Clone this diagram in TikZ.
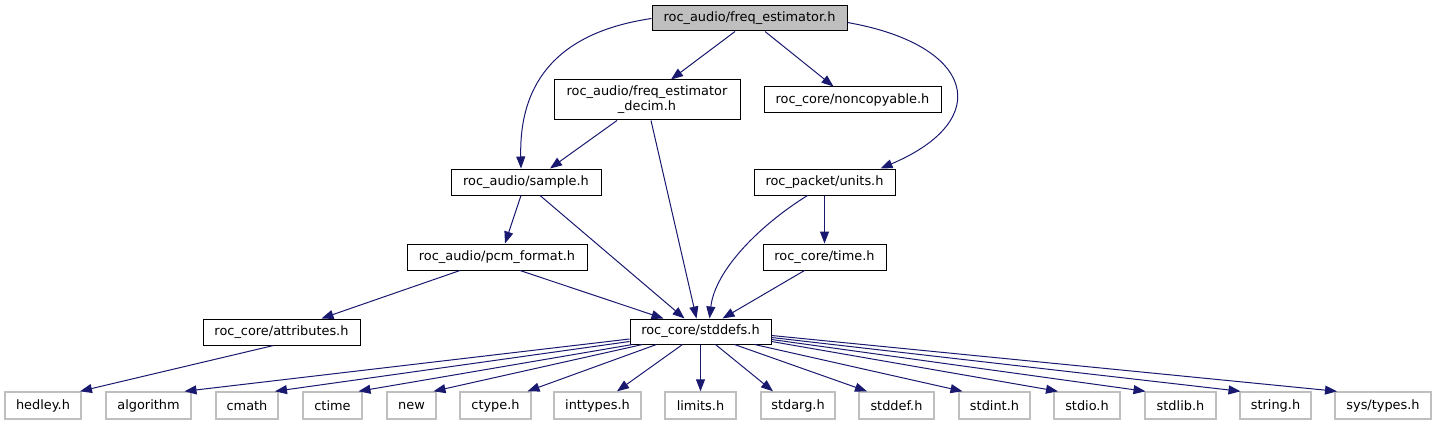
\documentclass[tikz,border=0pt]{standalone}
\usepackage{fontspec}
\setmainfont{DejaVu Sans}
\usetikzlibrary{arrows.meta}
\definecolor{edgeblue}{HTML}{191970}
\definecolor{grey75}{HTML}{BFBFBF}
\begin{document}
\begin{tikzpicture}[x=1pt,y=-1pt,
  every node/.style={font=\fontsize{12.9}{15}\selectfont, inner sep=0pt, align=center},
  box/.style={draw=black, line width=1pt, fill=white, minimum height=26pt},
  topbox/.style={box, fill=grey75, minimum height=25pt},
  extbox/.style={draw=grey75, line width=1.4pt, fill=white, minimum height=27pt},
  edge/.style={draw=edgeblue, line width=1pt, -{Triangle[length=12pt,width=9pt]}}]
\useasboundingbox (0,0) rectangle (1437,425);
% nodes
\node[topbox, minimum width=195pt] (top) at (749.5,18.5) {roc\_audio/freq\_estimator.h};
\node[box, minimum width=186pt, minimum height=40pt] (decim) at (647,100) {roc\_audio/freq\_estimator\\\_decim.h};
\node[box, minimum width=177pt] (noncopy) at (852.5,100) {roc\_core/noncopyable.h};
\node[box, minimum width=150pt] (sample) at (526,182) {roc\_audio/sample.h};
\node[box, minimum width=141pt] (units) at (824.5,182) {roc\_packet/units.h};
\node[box, minimum width=180pt] (pcm) at (497,257) {roc\_audio/pcm\_format.h};
\node[box, minimum width=123pt] (time) at (824.5,257) {roc\_core/time.h};
\node[box, minimum width=157pt] (attr) at (281.5,332) {roc\_core/attributes.h};
\node[box, minimum width=141pt, minimum height=25pt] (stddefs) at (700.5,331.5) {roc\_core/stddefs.h};
% bottom row
\node[extbox, minimum width=76pt] (hedley) at (43,405.5) {hedley.h};
\node[extbox, minimum width=85pt] (algorithm) at (148.5,405.5) {algorithm};
\node[extbox, minimum width=62pt] (cmath) at (247,405.5) {cmath};
\node[extbox, minimum width=59pt] (ctime) at (332.5,405.5) {ctime};
\node[extbox, minimum width=49pt] (new) at (411.5,405.5) {new};
\node[extbox, minimum width=71pt] (ctype) at (495.5,405.5) {ctype.h};
\node[extbox, minimum width=87pt] (inttypes) at (597.5,405.5) {inttypes.h};
\node[extbox, minimum width=71pt] (limits) at (700.5,405.5) {limits.h};
\node[extbox, minimum width=74pt] (stdarg) at (798,405.5) {stdarg.h};
\node[extbox, minimum width=75pt] (stddef) at (896.5,405.5) {stddef.h};
\node[extbox, minimum width=71pt] (stdint) at (994.5,405.5) {stdint.h};
\node[extbox, minimum width=66pt] (stdio) at (1087,405.5) {stdio.h};
\node[extbox, minimum width=71pt] (stdlib) at (1180.5,405.5) {stdlib.h};
\node[extbox, minimum width=71pt] (string) at (1275.5,405.5) {string.h};
\node[extbox, minimum width=96pt] (systypes) at (1383,405.5) {sys/types.h};
% edges from top
\draw[edge] (top.west) .. controls (560,32) and (519,80) .. ([xshift=-5pt]sample.north);
\draw[edge] ([xshift=-14.5pt]top.south) -- ([xshift=24pt]decim.north);
\draw[edge] ([xshift=15.5pt]top.south) -- ([xshift=-19pt]noncopy.north);
\draw[edge] ([yshift=-4pt]top.east) .. controls (975,45) and (995,120) .. ([xshift=56pt]units.north);
% middle edges
\draw[edge] ([xshift=-30pt]decim.south) -- ([xshift=24pt]sample.north);
\draw[edge] ([xshift=4pt]decim.south) -- ([xshift=-4pt]stddefs.north);
\draw[edge] ([xshift=-5pt]sample.south) -- ([xshift=8pt]pcm.north);
\draw[edge] ([xshift=14pt]sample.south) -- ([xshift=-16pt]stddefs.north);
\draw[edge] ([xshift=-37pt]pcm.south) -- ([xshift=40pt]attr.north);
\draw[edge] ([xshift=23pt]pcm.south) -- ([xshift=-37pt]stddefs.north);
\draw[edge] ([xshift=-17pt]units.south) .. controls (760,225) and (715,270) .. ([xshift=9pt]stddefs.north);
\draw[edge] (units.south) -- (time.north);
\draw[edge] ([xshift=-20pt]time.south) -- ([xshift=22pt]stddefs.north);
\draw[edge] ([xshift=-8pt]attr.south) -- ([xshift=37pt]hedley.north);
% stddefs fan-out
\draw[edge] ([yshift=-7.5pt]stddefs.west) -- ([xshift=36pt]algorithm.north);
\draw[edge] ([yshift=-10pt]stddefs.west) -- ([xshift=28pt]cmath.north);
\draw[edge] ([xshift=-68pt]stddefs.south) -- ([xshift=26pt]ctime.north);
\draw[edge] ([xshift=-58pt]stddefs.south) -- ([xshift=22pt]new.north);
\draw[edge] ([xshift=-44pt]stddefs.south) -- ([xshift=32pt]ctype.north);
\draw[edge] ([xshift=-18pt]stddefs.south) -- ([xshift=19.5pt]inttypes.north);
\draw[edge] (stddefs.south) -- (limits.north);
\draw[edge] ([xshift=15pt]stddefs.south) -- ([xshift=-25pt]stdarg.north);
\draw[edge] ([xshift=34pt]stddefs.south) -- ([xshift=-29.5pt]stddef.north);
\draw[edge] ([xshift=54pt]stddefs.south) -- ([xshift=-32pt]stdint.north);
\draw[edge] ([yshift=-10pt]stddefs.east) -- ([xshift=-29pt]stdio.north);
\draw[edge] ([yshift=-8pt]stddefs.east) -- ([xshift=-35pt]stdlib.north);
\draw[edge] ([yshift=-6pt]stddefs.east) -- ([xshift=-35pt]string.north);
\draw[edge] ([yshift=-4pt]stddefs.east) -- ([xshift=-46pt]systypes.north);
\end{tikzpicture}
\end{document}
